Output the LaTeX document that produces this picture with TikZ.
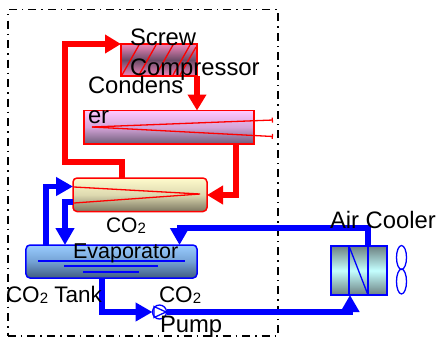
\documentclass[tikz,border=0pt]{standalone}
\usepackage{fontspec}
\setmainfont{Liberation Sans}
\definecolor{mPipeRed}{HTML}{FF0000}
\definecolor{mPipeBlue}{HTML}{0000FF}
\definecolor{mCompPink}{HTML}{F088BC}
\definecolor{mCompDark}{HTML}{6A4A66}
\definecolor{mCondPink}{HTML}{FFC8FF}
\definecolor{mCondMid}{HTML}{D4A4D8}
\definecolor{mCondDark}{HTML}{6C5C78}
\definecolor{mEvapCream}{HTML}{FFFBCC}
\definecolor{mEvapMid}{HTML}{DDD9B0}
\definecolor{mEvapDark}{HTML}{7A7660}
\definecolor{mTankSky}{HTML}{99CCFF}
\definecolor{mTankMid}{HTML}{74A2D4}
\definecolor{mTankDark}{HTML}{3F5C80}
\definecolor{mCoolCyan}{HTML}{C4FFFF}
\definecolor{mCoolDark}{HTML}{6C8080}
\usetikzlibrary{arrows.meta,shapes.geometric}
\tikzset{
 unitbox/.style={rectangle, outer sep=0pt, inner sep=0pt, line width=1.5bp},
 redpipe/.style={draw=mPipeRed, line width=5.5bp, -{Triangle[length=16bp,width=18bp]}},
 bluepipe/.style={draw=mPipeBlue, line width=5.5bp, -{Triangle[length=17bp,width=18bp]}},
 thinred/.style={draw=mPipeRed, line width=1.3bp},
 thinblue/.style={draw=mPipeBlue, line width=1.3bp},
 lbl/.style={anchor=base west, inner sep=0pt, outer sep=0pt, font=\fontsize{23.8bp}{30bp}\selectfont},
}
\newcommand{\cotwo}{CO{\fontsize{15bp}{15bp}\selectfont\raisebox{-1bp}{2}}}
\newcommand{\unitnode}[6]{%
\node[unitbox, minimum width=#3 bp, minimum height=#4 bp, #6] (#5) at (#1,#2) {};}

\begin{document}
\begin{tikzpicture}[x=1bp,y=-1bp]
\useasboundingbox (0,0) rectangle (437,338);
\node[rectangle, draw=black, line width=1.3bp, dash pattern=on 8bp off 5bp on 1.5bp off 5bp, minimum width=270bp, minimum height=326.5bp, inner sep=0pt] (boundary) at (143,172.75) {};
% equipment
\unitnode{159}{60}{76}{32}{comp}{draw=mPipeRed, top color=mCompPink, bottom color=mCompPink, middle color=mCompDark}
\unitnode{169}{127.25}{170}{33.5}{cond}{draw=mPipeRed, top color=mCondPink, bottom color=mCondDark, middle color=mCondMid}
\unitnode{140}{194.75}{134}{33.5}{evap}{rounded corners=4bp, draw=mPipeRed, top color=mEvapCream, bottom color=mEvapDark, middle color=mEvapMid}
\unitnode{111.5}{261.5}{171}{33}{tank}{rounded corners=4bp, draw=mPipeBlue, top color=mTankSky, bottom color=mTankDark, middle color=mTankMid}
\unitnode{359}{270.5}{56}{49}{cooler}{draw=mPipeBlue, top color=mCoolDark, bottom color=mCoolDark, middle color=mCoolCyan}
\node[circle, draw=mPipeBlue, fill=white, line width=1.3bp, minimum size=14bp, inner sep=0pt, outer sep=0pt] (pump) at (159.5,312) {};
\coordinate (p1) at (154,306.5);
\coordinate (p2) at (166,312);
\coordinate (p3) at (154,317.5);
\draw[thinblue] (p1) -- (p2) -- (p3) -- cycle;
\node[ellipse, draw=mPipeBlue, line width=1.3bp, minimum width=10bp, minimum height=24bp, inner sep=0pt, outer sep=0pt] (fantop) at (401.5,257.5) {};
\node[ellipse, draw=mPipeBlue, line width=1.3bp, minimum width=10bp, minimum height=25bp, inner sep=0pt, outer sep=0pt] (fanbot) at (401.5,281.5) {};
% inner lines
\draw[thinred] (122,75) -- (139,45) (139,75) -- (156,45) (156,75) -- (173,45) (173,75) -- (190,45) (180,75) -- (196,47);
\coordinate (c0) at (92,127);
\coordinate (t1) at (273,120);
\coordinate (t2) at (273,136.5);
\draw[thinred, -{Bar[width=5bp]}] (c0) -- (t1);
\draw[thinred, -{Bar[width=5bp]}] (c0) -- (t2);
\coordinate (e1) at (74,187);
\coordinate (e2) at (200,194);
\coordinate (e3) at (74,203);
\draw[thinred] (e1) -- (e2) -- (e3);
\draw[thinblue] (38,261) -- (185,261) (64,266) -- (158,266) (83,272) -- (139,272);
\coordinate (v1) at (349,270);
\coordinate (v2) at (368,270);
\draw[thinblue] (cooler.north -| v1) -- (cooler.south -| v1);
\draw[thinblue] (cooler.north -| v2) -- (cooler.south -| v2);
\draw[thinblue] (cooler.north -| v1) -- (cooler.south -| v2);
% red pipes
\coordinate (c1) at (236,195);
\coordinate (c2) at (122,162);
\coordinate (c3) at (65,162);
\coordinate (c4) at (65,44);
\draw[redpipe] (comp.south east) -- (cond.north -| comp.south east);
\draw[redpipe] (cond.south -| c1) -- (c1) -- (evap.east |- c1);
\draw[redpipe, line width=6.5bp] (evap.north -| c2) -- (c2) -- (c3) -- (c4) -- (comp.west |- c4);
% blue pipes
\coordinate (c5) at (46,186.5);
\coordinate (c6) at (65,202);
\coordinate (c7) at (102,312);
\coordinate (c8) at (350,312);
\coordinate (c9) at (368,228);
\coordinate (c10) at (179.5,228);
\draw[bluepipe] (tank.north -| c5) -- (c5) -- (evap.west |- c5);
\draw[bluepipe] (evap.west |- c6) -- (c6) -- (tank.north -| c6);
\draw[bluepipe] (tank.south -| c7) -- (c7) -- (pump.west);
\draw[bluepipe] (pump.east) -- (c8) -- (cooler.south -| c8);
\draw[bluepipe] (cooler.north -| c9) -- (c9) -- (c10) -- (tank.north -| c10);
% labels
\node[lbl] (lscrew) at (130,45) {Screw};
\node[lbl] (lcomp) at (130,75) {Compressor};
\node[lbl] (lcond) at (88,93) {Condens};
\node[lbl] (ler) at (88,123) {er};
\node[lbl, font=\fontsize{21bp}{30bp}\selectfont] (lco) at (106,232) {\cotwo};
\node[lbl, font=\fontsize{21.5bp}{30bp}\selectfont] (levap) at (73,258) {Evaporator};
\node[lbl, font=\fontsize{22.5bp}{30bp}\selectfont] (ltank) at (6,302) {\cotwo{} Tank};
\node[lbl, font=\fontsize{22.5bp}{30bp}\selectfont] (lco2) at (159,302) {\cotwo};
\node[lbl] (lpump) at (160,332) {Pump};
\node[lbl] (lair) at (330,228) {Air Cooler};
\end{tikzpicture}
\end{document}
